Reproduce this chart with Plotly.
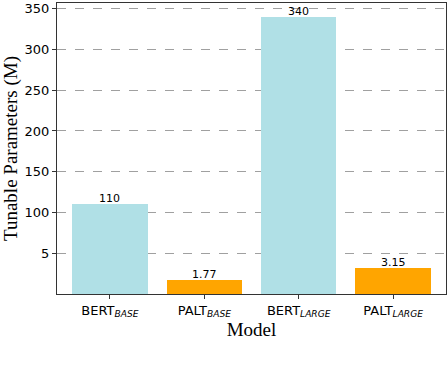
import plotly.graph_objects as go

models = ["BERT<sub><i>BASE</i></sub>", "PALT<sub><i>BASE</i></sub>",
          "BERT<sub><i>LARGE</i></sub>", "PALT<sub><i>LARGE</i></sub>"]
params = [110, 1.77, 340, 3.15]
bar_colors = ["#B0E0E6", "#FFA500", "#B0E0E6", "#FFA500"]
tick_vals = [50, 100, 150, 200, 250, 300, 350]
tick_text = ["5", "100", "150", "200", "250", "300", "350"]

# small values are drawn stretched x10 (the "5" tick sits where 50 would be)
plot_vals = [v * 10 if v < 5 else v for v in params]
labels = [f"{v:g}" for v in params]
xs = list(range(len(models)))

fig = go.Figure()
fig.add_trace(
    go.Bar(
        x=xs,
        y=plot_vals,
        width=0.8,
        marker=dict(color=bar_colors, line=dict(width=0)),
        showlegend=False,
    )
)
for x, y, t in zip(xs, plot_vals, labels):
    fig.add_annotation(
        x=x, y=y, text=t, showarrow=False, yanchor="bottom", yshift=-3,
        font=dict(family="DejaVu Sans", size=11, color="black"),
    )

fig.update_xaxes(
    tickvals=xs,
    ticktext=models,
    range=[-0.56, 3.56],
    ticks="outside",
    ticklen=4,
    tickcolor="#333",
    showline=True,
    linecolor="#333",
    linewidth=1,
    mirror=True,
    showgrid=False,
    automargin=False,
    tickfont=dict(family="DejaVu Sans", size=13, color="black"),
    title=dict(text="Model", font=dict(family="Liberation Serif", size=19, color="black"), standoff=2),
)
fig.update_yaxes(
    tickvals=tick_vals,
    ticktext=tick_text,
    range=[0, 357],
    ticks="outside",
    ticklen=4,
    tickcolor="#333",
    showline=True,
    linecolor="#333",
    linewidth=1,
    mirror=True,
    showgrid=True,
    gridcolor="#a0a0a0",
    griddash="dash",
    gridwidth=1,
    zeroline=False,
    automargin=False,
    tickfont=dict(family="DejaVu Sans", size=13, color="black"),
    title=dict(text="Tunable Parameters (M)", font=dict(family="Liberation Serif", size=19, color="black"), standoff=6),
)
fig.update_layout(
    width=448,
    height=368,
    margin=dict(l=57, r=2, t=3, b=74),
    plot_bgcolor="white",
    paper_bgcolor="white",
    bargap=0,
)
fig.write_html(
    "out.html",
    config={"displayModeBar": False},
    post_script="document.body.style.margin='0';document.body.style.overflow='hidden';"
                "document.documentElement.style.overflow='hidden';",
)
